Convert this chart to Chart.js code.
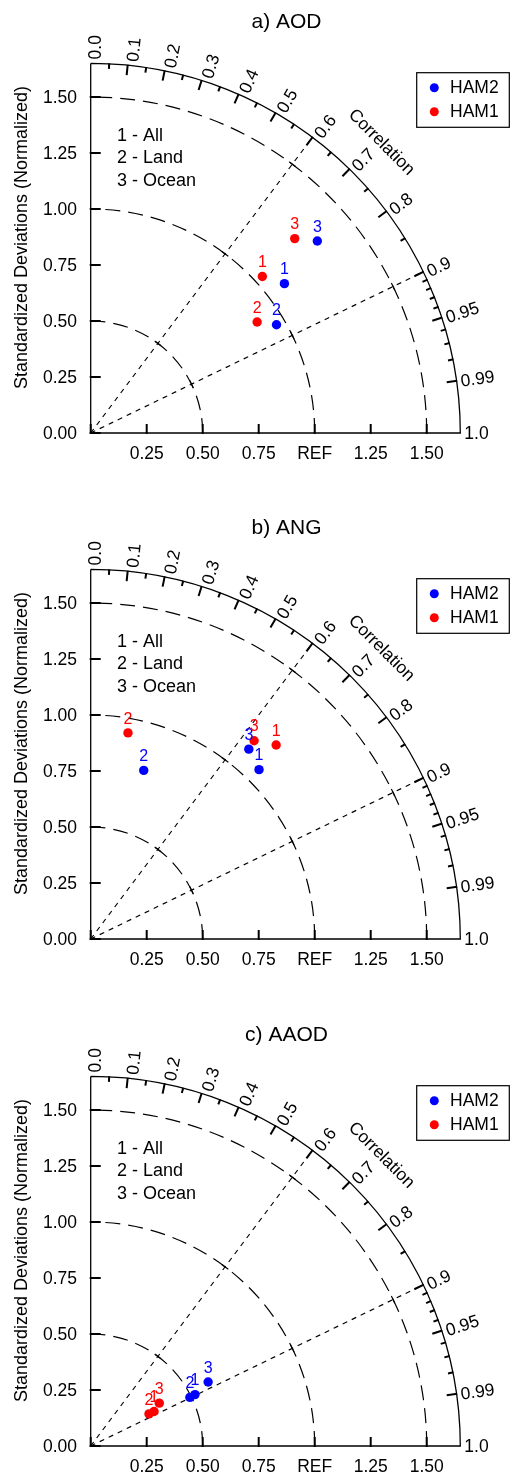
<!DOCTYPE html>
<html><head><meta charset="utf-8">
<script src="https://cdn.jsdelivr.net/npm/chart.js@4"></script>
<style>
html,body{margin:0;padding:0;background:#fff;overflow:hidden;width:510px;height:1477px;}
.panel{position:absolute;left:0;width:510px;height:506px;}
</style></head><body>
<div class="panel" style="top:0px"><canvas id="c0" width="510" height="506"></canvas></div>
<div class="panel" style="top:506px"><canvas id="c1" width="510" height="506"></canvas></div>
<div class="panel" style="top:1013px"><canvas id="c2" width="510" height="506"></canvas></div>
<script>
// ---- data ----
const titles = ['a) AOD', 'b) ANG', 'c) AAOD'];
const seriesNames = ['HAM2', 'HAM1'];
const seriesColors = ['#0000ff', '#ff0000'];
const caseLabels = ['1', '2', '3'];
const regionKey = ['1 - All', '2 - Land', '3 - Ocean'];
// normalized standard deviation and correlation (cases: All, Land, Ocean)
const aodHam2Std = [1.092, 0.960, 1.326];
const aodHam2Cor = [0.792, 0.864, 0.763];
const aodHam1Std = [1.037, 0.893, 1.258];
const aodHam1Cor = [0.739, 0.832, 0.724];
const angHam2Std = [1.066, 0.789, 1.103];
const angHam2Cor = [0.705, 0.300, 0.640];
const angHam1Std = [1.198, 0.935, 1.147];
const angHam1Cor = [0.691, 0.178, 0.636];
const aaodHam2Std = [0.519, 0.493, 0.597];
const aaodHam2Cor = [0.897, 0.898, 0.878];
const aaodHam1Std = [0.322, 0.297, 0.361];
const aaodHam1Cor = [0.878, 0.876, 0.848];
// axes
const sdTicks = [0, 0.25, 0.5, 0.75, 1.0, 1.25, 1.5];
const sdTickLabelsY = ['0.00', '0.25', '0.50', '0.75', '1.00', '1.25', '1.50'];
const sdTickLabelsX = ['', '0.25', '0.50', '0.75', 'REF', '1.25', '1.50'];
const corMajor = [0.0, 0.1, 0.2, 0.3, 0.4, 0.5, 0.6, 0.7, 0.8, 0.9, 0.95, 0.99, 1.0];
const corMajorLabels = ['0.0', '0.1', '0.2', '0.3', '0.4', '0.5', '0.6', '0.7', '0.8', '0.9', '0.95', '0.99', '1.0'];
const corMinor = [0.05, 0.15, 0.25, 0.35, 0.45, 0.55, 0.65, 0.75, 0.85, 0.91, 0.92, 0.93, 0.94, 0.96, 0.97, 0.98];
const sdArcs = [0.5, 1.0, 1.5];
const corRays = [0.6, 0.9];
const sdMax = 1.65;

const panels = [
  {title: titles[0], std: [aodHam2Std, aodHam1Std], cor: [aodHam2Cor, aodHam1Cor]},
  {title: titles[1], std: [angHam2Std, angHam1Std], cor: [angHam2Cor, angHam1Cor]},
  {title: titles[2], std: [aaodHam2Std, aaodHam1Std], cor: [aaodHam2Cor, aaodHam1Cor]}
];

const FONT = "'Liberation Sans', Arial, Helvetica, sans-serif";
function f(sz) { return sz + 'px ' + FONT; }

function toXY(s, r) {
  return {x: s * r, y: s * Math.sqrt(Math.max(0, 1 - r * r))};
}

const taylorPlugin = {
  id: 'taylor',
  beforeDatasetsDraw(chart) {
    const ctx = chart.ctx;
    const xs = chart.scales.x, ys = chart.scales.y;
    const x0 = xs.getPixelForValue(0), y0 = ys.getPixelForValue(0);
    const k = xs.getPixelForValue(1) - x0;
    const R = sdMax * k;
    ctx.save();
    ctx.strokeStyle = '#000';
    ctx.lineCap = 'butt';
    // std arcs
    ctx.lineWidth = 1.2;
    ctx.setLineDash([15, 8]);
    sdArcs.forEach(r => {
      ctx.beginPath();
      ctx.moveTo(x0 + r * k, y0);
      ctx.arc(x0, y0, r * k, 0, -Math.PI / 2, true);
      ctx.stroke();
    });
    // correlation rays
    ctx.setLineDash([5, 5]);
    corRays.forEach(c => {
      const th = Math.acos(c);
      ctx.beginPath();
      ctx.moveTo(x0, y0);
      ctx.lineTo(x0 + R * Math.cos(th), y0 - R * Math.sin(th));
      ctx.stroke();
    });
    ctx.setLineDash([]);
    // small ticks at ray/arc crossings
    ctx.lineWidth = 1.2;
    corRays.forEach(c => {
      const th = Math.acos(c);
      sdArcs.forEach(r => {
        const px = x0 + r * k * Math.cos(th), py = y0 - r * k * Math.sin(th);
        const tx = Math.sin(th), ty = Math.cos(th);
        ctx.beginPath();
        ctx.moveTo(px - 4 * tx, py - 4 * ty);
        ctx.lineTo(px + 4 * tx, py + 4 * ty);
        ctx.stroke();
      });
    });
    // outer arc and axes
    ctx.lineWidth = 1.3;
    ctx.beginPath();
    ctx.moveTo(x0, y0 - R);
    ctx.lineTo(x0, y0);
    ctx.lineTo(x0 + R, y0);
    ctx.arc(x0, y0, R, 0, -Math.PI / 2, true);
    ctx.stroke();
    // axis ticks
    ctx.lineWidth = 2;
    sdTicks.forEach((v, i) => {
      const px = xs.getPixelForValue(v);
      ctx.beginPath(); ctx.moveTo(px, y0 + 1); ctx.lineTo(px, y0 - 9); ctx.stroke();
      const py = ys.getPixelForValue(v);
      ctx.beginPath(); ctx.moveTo(x0 - 1, py); ctx.lineTo(x0 + 10, py); ctx.stroke();
    });
    // tick labels
    ctx.fillStyle = '#000';
    ctx.font = f(17.5);
    ctx.textBaseline = 'middle';
    ctx.textAlign = 'right';
    sdTicks.forEach((v, i) => {
      ctx.fillText(sdTickLabelsY[i], x0 - 13.7, ys.getPixelForValue(v) + 1);
    });
    ctx.textAlign = 'center';
    sdTicks.forEach((v, i) => {
      if (sdTickLabelsX[i]) ctx.fillText(sdTickLabelsX[i], xs.getPixelForValue(v), y0 + 21);
    });
    // correlation ticks
    ctx.lineWidth = 2;
    corMajor.forEach(c => {
      if (c <= 0 || c >= 1) return;
      const th = Math.acos(c), cs = Math.cos(th), sn = Math.sin(th);
      ctx.beginPath();
      ctx.moveTo(x0 + (R + 0.5) * cs, y0 - (R + 0.5) * sn);
      ctx.lineTo(x0 + (R - 10) * cs, y0 - (R - 10) * sn);
      ctx.stroke();
    });
    corMinor.forEach(c => {
      const th = Math.acos(c), cs = Math.cos(th), sn = Math.sin(th);
      ctx.beginPath();
      ctx.moveTo(x0 + (R + 0.5) * cs, y0 - (R + 0.5) * sn);
      ctx.lineTo(x0 + (R - 5) * cs, y0 - (R - 5) * sn);
      ctx.stroke();
    });
    // correlation labels
    ctx.font = f(17.5);
    ctx.textAlign = 'left';
    ctx.textBaseline = 'middle';
    corMajor.forEach((c, i) => {
      const th = Math.acos(c);
      const rr = R + 4;
      ctx.save();
      ctx.translate(x0 + rr * Math.cos(th), y0 - rr * Math.sin(th));
      ctx.rotate(-th);
      ctx.fillText(corMajorLabels[i], 0, 1 + 4.5 * Math.sin(th));
      ctx.restore();
    });
    // "Correlation" label
    ctx.save();
    const rc = 411;
    ctx.translate(x0 + rc * Math.cos(Math.PI / 4), y0 - rc * Math.sin(Math.PI / 4));
    ctx.rotate(Math.PI / 4);
    ctx.textAlign = 'center';
    ctx.fillText('Correlation', 0, 0);
    ctx.restore();
    ctx.restore();
  },
  afterDatasetsDraw(chart) {
    const ctx = chart.ctx;
    const y0 = chart.scales.y.getPixelForValue(0);
    ctx.save();
    // case labels above points (HAM2 first, HAM1 on top)
    ctx.font = f(16);
    ctx.textAlign = 'center';
    ctx.textBaseline = 'middle';
    [0, 1].forEach(di => {
      const meta = chart.getDatasetMeta(di);
      ctx.fillStyle = seriesColors[di];
      meta.data.forEach((el, j) => {
        ctx.fillText(caseLabels[j], el.x, el.y - 13.7);
      });
    });
    // title
    ctx.fillStyle = '#000';
    ctx.font = f(21);
    ctx.fillText(chart.options.plugins.taylor.title, 286.5, y0 - 411);
    // y-axis title
    ctx.save();
    ctx.font = f(18);
    ctx.translate(22, y0 - 195.5);
    ctx.rotate(-Math.PI / 2);
    ctx.fillText('Standardized Deviations (Normalized)', 0, 0);
    ctx.restore();
    // region key
    ctx.font = f(18);
    ctx.textAlign = 'left';
    regionKey.forEach((t, i) => {
      ctx.fillText(t, 117, y0 - 297.3 + i * 22.7);
    });
    // legend
    const lx = 416.7, ly = y0 - 360.3, lw = 92.6, lh = 54.6;
    ctx.lineWidth = 1.2;
    ctx.strokeStyle = '#000';
    ctx.strokeRect(lx, ly, lw, lh);
    ctx.font = f(17.5);
    seriesNames.forEach((n, i) => {
      const cy = ly + 15 + i * 24;
      ctx.fillStyle = seriesColors[i];
      ctx.beginPath();
      ctx.arc(434.3, cy, 4.5, 0, Math.PI * 2);
      ctx.fill();
      ctx.fillStyle = '#000';
      ctx.fillText(n, 450, cy + 0.5);
    });
    ctx.restore();
  }
};

panels.forEach((p, pi) => {
  const datasets = seriesNames.map((name, si) => ({
    label: name,
    data: p.std[si].map((s, j) => toXY(s, p.cor[si][j])),
    backgroundColor: seriesColors[si],
    borderWidth: 0,
    pointRadius: 4.7,
    pointHoverRadius: 4.7,
    order: 1 - si
  }));
  new Chart(document.getElementById('c' + pi), {
    type: 'scatter',
    data: {datasets},
    options: {
      responsive: false,
      animation: false,
      events: [],
      layout: {padding: {left: 0, right: 49.7, top: 63.4, bottom: 0}},
      plugins: {
        legend: {display: false},
        tooltip: {enabled: false},
        title: {display: false},
        taylor: {title: p.title}
      },
      scales: {
        x: {
          type: 'linear', min: 0, max: sdMax,
          grid: {display: false}, border: {display: false},
          ticks: {display: false},
          afterFit: s => { s.height = 73; }
        },
        y: {
          type: 'linear', min: 0, max: sdMax,
          grid: {display: false}, border: {display: false},
          ticks: {display: false},
          afterFit: s => { s.width = 90.7; }
        }
      }
    },
    plugins: [taylorPlugin]
  });
});
</script>
</body></html>
